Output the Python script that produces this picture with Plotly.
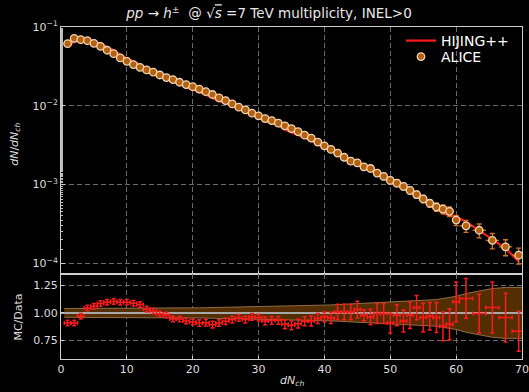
import plotly.graph_objects as go

# ---------------- data ----------------
x_data = [1, 2, 3, 4, 5, 6, 7, 8, 9, 10, 11, 12, 13, 14, 15, 16, 17, 18, 19, 20,
          21, 22, 23, 24, 25, 26, 27, 28, 29, 30, 31, 32, 33, 34, 35, 36, 37, 38, 39, 40,
          41, 42, 43, 44, 45, 46, 47, 48, 49, 50, 51, 52, 53, 54, 55, 56, 57, 58, 59, 60,
          61.5, 63.5, 65.5, 67.5, 69.5]
x_halfwidth = [0.5] * 60 + [1.0, 1.0, 1.0, 1.0, 1.0]

alice = [0.0614, 0.0719, 0.0690, 0.0670, 0.0621, 0.0569, 0.0507, 0.0459, 0.0405, 0.0367,
         0.0333, 0.0308, 0.0285, 0.0267, 0.0246, 0.0228, 0.0215, 0.0199, 0.0186, 0.0175,
         0.0163, 0.0151, 0.0139, 0.0126, 0.01164, 0.01057, 0.00960, 0.00887, 0.00806, 0.00745,
         0.00688, 0.00649, 0.00602, 0.00556, 0.00514, 0.00471, 0.00424, 0.00389, 0.00346, 0.00310,
         0.00279, 0.00251, 0.00222, 0.00198, 0.00188, 0.00168, 0.00160, 0.00140, 0.00127, 0.00113,
         0.00104, 0.000946, 0.000842, 0.000747, 0.000657, 0.000579, 0.000519, 0.000489, 0.000457, 0.000354,
         0.000299, 0.000263, 0.000196, 0.000162, 0.000127]

# relative uncertainty of the data (used for error bars and the ratio band)
alice_rel_err = [0.040, 0.040, 0.040, 0.040, 0.040, 0.040, 0.040, 0.040, 0.040, 0.040,
                 0.040, 0.040, 0.040, 0.040, 0.040, 0.042, 0.043, 0.044, 0.045, 0.045,
                 0.046, 0.047, 0.048, 0.049, 0.050, 0.051, 0.052, 0.053, 0.054, 0.055,
                 0.056, 0.057, 0.058, 0.060, 0.061, 0.063, 0.064, 0.066, 0.068, 0.070,
                 0.072, 0.075, 0.078, 0.082, 0.085, 0.087, 0.090, 0.093, 0.096, 0.100,
                 0.102, 0.104, 0.106, 0.108, 0.110, 0.115, 0.120, 0.130, 0.140, 0.150,
                 0.175, 0.200, 0.220, 0.230, 0.230]

# HIJING++ / ALICE ratio
mc_ratio = [0.909, 0.909, 0.970, 1.045, 1.061, 1.085, 1.097, 1.103, 1.097, 1.097,
            1.088, 1.076, 1.034, 1.018, 0.991, 0.982, 0.945, 0.945, 0.927, 0.918,
            0.909, 0.912, 0.894, 0.909, 0.925, 0.940, 0.955, 0.940, 0.964, 0.958,
            0.927, 0.933, 0.933, 0.897, 0.888, 0.903, 0.925, 0.927, 0.949, 0.964,
            0.955, 1.009, 1.009, 1.009, 1.030, 0.979, 0.964, 0.994, 0.994, 0.909,
            0.979, 0.927, 0.979, 1.048, 0.958, 0.970, 0.958, 0.879, 0.897, 1.100,
            1.131, 0.994, 1.048, 0.958, 0.834]

mc_ratio_err = [0.025, 0.025, 0.025, 0.025, 0.025, 0.025, 0.025, 0.025, 0.025, 0.025,
                0.025, 0.025, 0.025, 0.025, 0.025, 0.025, 0.025, 0.025, 0.025, 0.025,
                0.030, 0.030, 0.030, 0.030, 0.030, 0.030, 0.030, 0.030, 0.030, 0.030,
                0.035, 0.035, 0.035, 0.040, 0.040, 0.040, 0.040, 0.045, 0.045, 0.045,
                0.050, 0.070, 0.070, 0.070, 0.075, 0.050, 0.070, 0.090, 0.090, 0.090,
                0.095, 0.100, 0.120, 0.110, 0.130, 0.125, 0.135, 0.130, 0.140, 0.180,
                0.180, 0.175, 0.230, 0.220, 0.180]

x_ticks = [0, 10, 20, 30, 40, 50, 60, 70]
y_ticks_main = [1e-4, 1e-3, 1e-2, 1e-1]
y_ticktext_main = ["10<sup>−4</sup>", "10<sup>−3</sup>", "10<sup>−2</sup>", "10<sup>−1</sup>"]
y_ticks_ratio = [0.75, 1.00, 1.25]
y_ticktext_ratio = ["0.75", "1.00", "1.25"]

# derived series
hijing = [a * r for a, r in zip(alice, mc_ratio)]
alice_err = [a * e for a, e in zip(alice, alice_rel_err)]
band_x = [0.5] + x_data + [70.5]
band_rel = [alice_rel_err[0]] + alice_rel_err + [alice_rel_err[-1]]
band_lo = [1 - e for e in band_rel]
band_hi = [1 + e for e in band_rel]

# ---------------- figure ----------------
FONT = "DejaVu Sans"
L, R, T, B = 61, 7, 27, 32.5
W, H = 529, 392
PW, PH = W - L - R, H - T - B

fig = go.Figure()

fig.add_trace(go.Scatter(
    x=x_data, y=hijing, mode="lines", name="HIJING++", legend="legend",
    line=dict(color="#ff1a1a", width=2.2), xaxis="x", yaxis="y"))

fig.add_trace(go.Scatter(
    x=x_data, y=alice, mode="markers", name="ALICE", legend="legend2",
    marker=dict(color="#b5600d", size=7.5, line=dict(color="#f2d6b8", width=1.3)),
    error_y=dict(type="data", array=alice_err, color="#d4731a", thickness=1.3, width=2.5),
    error_x=dict(type="data", array=x_halfwidth, color="#d4731a", thickness=1.3, width=0),
    xaxis="x", yaxis="y"))

# ratio band
fig.add_trace(go.Scatter(
    x=band_x, y=band_lo, mode="lines", showlegend=False,
    line=dict(color="rgba(170,130,90,0.8)", width=1), xaxis="x2", yaxis="y2"))
fig.add_trace(go.Scatter(
    x=band_x, y=band_hi, mode="lines", showlegend=False, fill="tonexty",
    fillcolor="rgb(84,46,3)",
    line=dict(color="rgba(170,130,90,0.8)", width=1), xaxis="x2", yaxis="y2"))
# unity line
fig.add_trace(go.Scatter(
    x=[0, 70], y=[1, 1], mode="lines", showlegend=False,
    line=dict(color="#a8a8a8", width=2), xaxis="x2", yaxis="y2"))
# ratio points
fig.add_trace(go.Scatter(
    x=x_data, y=mc_ratio, mode="markers", showlegend=False,
    marker=dict(color="#ff1a1a", size=2),
    error_y=dict(type="data", array=mc_ratio_err, color="#ff1a1a", thickness=1.5, width=2),
    error_x=dict(type="data", array=x_halfwidth, color="#ff1a1a", thickness=1.5, width=2),
    xaxis="x2", yaxis="y2"))

split = 85 / PH
grid = dict(showgrid=True, gridcolor="#6a6a6a", gridwidth=1, griddash="5px,3px",
            zeroline=False, automargin=False)
tickfont = dict(family=FONT, size=11, color="#dddddd")
line_style = dict(showline=True, linecolor="#cfcfcf", linewidth=1, mirror=True)
leg_common = dict(xanchor="left", yanchor="middle", bgcolor="rgba(0,0,0,0)",
                  font=dict(family=FONT, size=14, color="white"), itemwidth=30,
                  borderwidth=0)


def px_x(px):
    return (px - L) / PW


def px_y(py):
    return 1 - (py - T) / PH


fig.update_layout(
    width=W, height=H,
    paper_bgcolor="black", plot_bgcolor="black",
    margin=dict(l=L, r=R, t=T, b=B, autoexpand=False),
    font=dict(family=FONT, color="#dddddd"),
    showlegend=True,
    legend=dict(x=px_x(401), y=px_y(41), **leg_common),
    legend2=dict(x=px_x(401), y=px_y(57), **leg_common),
    title=dict(text="<i>pp</i> → <i>h</i><sup>±</sup>  @ √<span style='text-decoration:overline'><i>s</i></span> =7 TeV multiplicity, INEL>0",
               x=269 / W, xref="container", xanchor="center", y=1 - 13.5 / H, yanchor="middle",
               font=dict(family=FONT, size=13.5, color="#e8e8e8")),
    xaxis=dict(domain=[0, 1], range=[0, 70], tickvals=x_ticks, showticklabels=False,
               ticks="inside", ticklen=3, tickcolor="#cfcfcf", anchor="y", **grid, **line_style),
    yaxis=dict(domain=[split, 1], type="log", range=[-4.137, -1],
               tickvals=y_ticks_main, ticktext=y_ticktext_main, tickfont=tickfont,
               ticks="inside", ticklen=4, tickcolor="#cfcfcf",
               minor=dict(ticks="inside", ticklen=2, tickcolor="#bbbbbb", showgrid=False),
               anchor="x", **grid, **line_style),
    xaxis2=dict(domain=[0, 1], range=[0, 70], tickvals=x_ticks, tickfont=tickfont,
                ticks="inside", ticklen=3, tickcolor="#cfcfcf", anchor="y2", **grid, **line_style),
    yaxis2=dict(domain=[0, split], range=[0.584, 1.35], tickvals=y_ticks_ratio,
                ticktext=y_ticktext_ratio, tickfont=tickfont,
                ticks="inside", ticklen=3, tickcolor="#cfcfcf", anchor="x2", **grid, **line_style),
)

fig.add_annotation(text="<i>dN</i>/<i>dN</i><sub><i>ch</i></sub>", xref="paper", yref="paper",
                   x=px_x(15), y=px_y(145), textangle=-90, showarrow=False,
                   xanchor="center", yanchor="middle", font=dict(family=FONT, size=11, color="#dddddd"))
fig.add_annotation(text="MC/Data", xref="paper", yref="paper",
                   x=px_x(19), y=px_y(318), textangle=-90, showarrow=False,
                   xanchor="center", yanchor="middle", font=dict(family=FONT, size=11, color="#dddddd"))
fig.add_annotation(text="<i>dN</i><sub><i>ch</i></sub>", xref="paper", yref="paper",
                   x=0.5, y=px_y(382), showarrow=False,
                   xanchor="center", yanchor="middle", font=dict(family=FONT, size=11, color="#dddddd"))

fig.write_html("out.html",
               config={"displayModeBar": False},
               post_script="document.body.style.margin='0px';document.body.style.overflow='hidden';")
